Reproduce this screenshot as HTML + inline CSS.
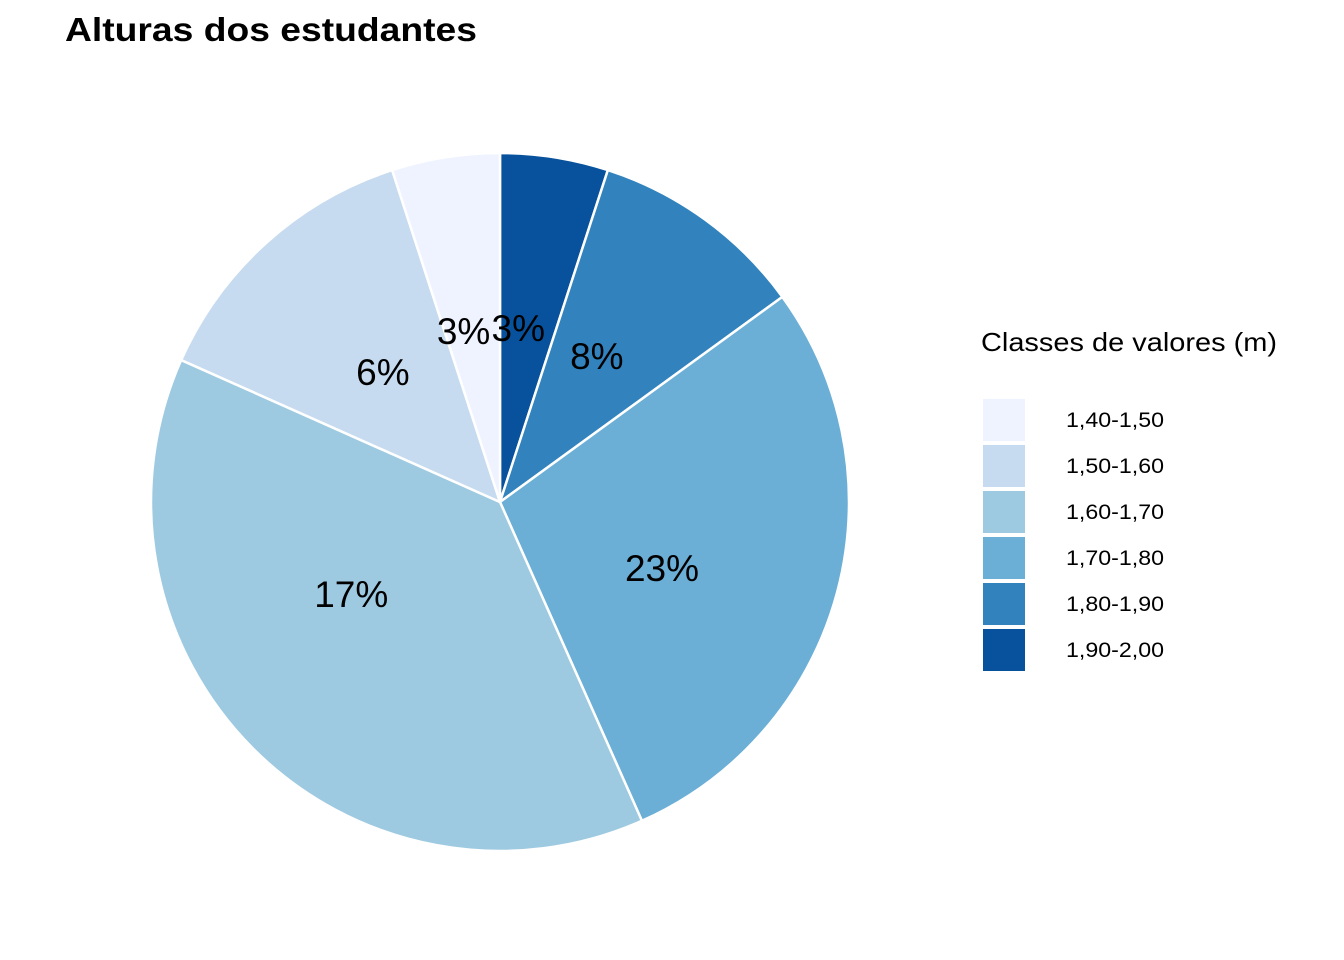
<!DOCTYPE html>
<html><head><meta charset="utf-8"><style>
html,body{margin:0;padding:0;background:#fff;}
svg{display:block;font-family:"Liberation Sans",Arial,sans-serif;}
</style></head><body>
<svg id="chart" width="1344" height="960" viewBox="0 0 1344 960">
<text x="65" y="41" font-size="33" font-weight="bold" fill="#000" textLength="412" lengthAdjust="spacingAndGlyphs">Alturas dos estudantes</text>
<g id="slices"></g>
<g id="labels"></g>
<text x="981" y="351" font-size="26" fill="#000" textLength="296" lengthAdjust="spacingAndGlyphs">Classes de valores (m)</text>
<g id="legend"></g>
</svg>
<script>
const categories = ["1,40-1,50","1,50-1,60","1,60-1,70","1,70-1,80","1,80-1,90","1,90-2,00"];
const counts = [3, 8, 23, 17, 6, 3];
const labelText = ["3%","6%","17%","23%","8%","3%"];
const labelPos = [58, 53, 39.7, 18.7, 5.6, 1];
const colors = ["#eff3ff","#c6dbef","#9ecae1","#6baed6","#3182bd","#08519c"];

const NS = "http://www.w3.org/2000/svg";
const cx = 500, cy = 502, R = 349;
const total = counts.reduce((a,b)=>a+b,0);
function ang(v){ return v/total*2*Math.PI; }
function pt(a,r){ return [cx + r*Math.sin(a), cy - r*Math.cos(a)]; }

const sg = document.getElementById('slices');
let acc = 0;
for (let i = categories.length-1; i >= 0; i--) {
  const a0 = ang(acc), a1 = ang(acc + counts[i]);
  acc += counts[i];
  const p0 = pt(a0,R), p1 = pt(a1,R);
  const large = (a1-a0) > Math.PI ? 1 : 0;
  const p = document.createElementNS(NS,'path');
  p.setAttribute('d', `M${cx},${cy} L${p0[0]},${p0[1]} A${R},${R} 0 ${large} 1 ${p1[0]},${p1[1]} Z`);
  p.setAttribute('fill', colors[i]);
  p.setAttribute('stroke', '#fff');
  p.setAttribute('stroke-width', '2.5');
  
  
  sg.appendChild(p);
}

const lg = document.getElementById('labels');
for (let i = 0; i < labelText.length; i++) {
  const q = pt(ang(labelPos[i]), 175);
  const t = document.createElementNS(NS,'text');
  t.setAttribute('x', q[0]);
  t.setAttribute('y', q[1] + 13);
  t.setAttribute('text-anchor', 'middle');
  t.setAttribute('font-size', '37');
  t.setAttribute('fill', '#000');
  t.textContent = labelText[i];
  
  
  lg.appendChild(t);
}

const leg = document.getElementById('legend');
for (let i = 0; i < categories.length; i++) {
  const y = 399 + i*46;
  const r = document.createElementNS(NS,'rect');
  r.setAttribute('x', 983); r.setAttribute('y', y);
  r.setAttribute('width', 42); r.setAttribute('height', 42);
  r.setAttribute('fill', colors[i]);
  
  
  leg.appendChild(r);
  const t = document.createElementNS(NS,'text');
  t.setAttribute('x', 1066); t.setAttribute('y', y + 28);
  t.setAttribute('font-size', '21');
  t.setAttribute('textLength', '98');
  t.setAttribute('lengthAdjust', 'spacingAndGlyphs');
  t.setAttribute('fill', '#000');
  t.textContent = categories[i];
  
  
  leg.appendChild(t);
}
</script>
</body></html>
